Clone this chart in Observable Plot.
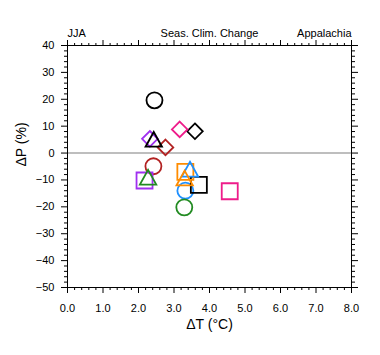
<!DOCTYPE html>
<html><head><meta charset="utf-8">
<script src="https://cdn.jsdelivr.net/npm/d3@7"></script>
<script src="https://cdn.jsdelivr.net/npm/@observablehq/plot@0.6"></script>
<style>body{margin:0;background:#fff;} svg{display:block}</style>
</head><body><div id="chart"></div>
<script>
// Data
const series = ["s1","s1","s1","s1","s2","s2","s3","s3","s4","s4","s5","s5","s6","s6","s7","s7"];
const marker = ["circle","diamond","triangle","square","diamond","square","diamond","square","diamond","circle","triangle","circle","square","triangle","triangle","circle"];
const dT = [2.45,3.59,2.43,3.70,3.16,4.57,2.32,2.17,2.76,2.42,3.45,3.32,3.32,3.30,2.27,3.29];
const dP = [19.6,8.1,5.1,-11.8,8.8,-14.2,5.3,-10.2,2.1,-4.9,-6.0,-14.0,-7.0,-9.3,-9.0,-20.2];

const seriesNames = ["s1","s2","s3","s4","s5","s6","s7"];
const seriesColors = ["#000000","#ee1c8a","#a030f0","#b22222","#1e90ff","#ff8c00","#228b22"];

const xMajor = [0,1,2,3,4,5,6,7,8];
const xMinor = [0.2,0.4,0.6,0.8,1.2,1.4,1.6,1.8,2.2,2.4,2.6,2.8,3.2,3.4,3.6,3.8,4.2,4.4,4.6,4.8,5.2,5.4,5.6,5.8,6.2,6.4,6.6,6.8,7.2,7.4,7.6,7.8];
const yMajor = [-50,-40,-30,-20,-10,0,10,20,30,40];
const yMinor = [-48,-46,-44,-42,-38,-36,-34,-32,-28,-26,-24,-22,-18,-16,-14,-12,-8,-6,-4,-2,2,4,6,8,12,14,16,18,22,24,26,28,32,34,36,38];

const titleLeft = "JJA", titleCenter = "Seas. Clim. Change", titleRight = "Appalachia";
const xTitle = "\u0394T (\u00B0C)", yTitle = "\u0394P (%)";

const data = series.map((s, i) => ({series: s, marker: marker[i], dT: dT[i], dP: dP[i]}));

// custom symbols (size -> radius like Plot does: size = r*r*PI)
const rad = (size) => Math.sqrt(size / Math.PI);
const symSquare = {draw(c, size){const r = rad(size); c.moveTo(-r,-r); c.lineTo(r,-r); c.lineTo(r,r); c.lineTo(-r,r); c.closePath();}};
const symDiamond = {draw(c, size){const r = rad(size); c.moveTo(0,-r); c.lineTo(r,0); c.lineTo(0,r); c.lineTo(-r,0); c.closePath();}};
const symTriangle = {draw(c, size){const r = rad(size); const h = r*0.9; c.moveTo(0,-h); c.lineTo(r,h); c.lineTo(-r,h); c.closePath();}};
const symCircle = {draw(c, size){const r = rad(size); c.moveTo(r,0); c.arc(0,0,r,0,2*Math.PI); c.closePath();}};
const shapes = {circle: [symCircle, 8], square: [symSquare, 8], diamond: [symDiamond, 7.8], triangle: [symTriangle, 8.2]};

const font = "Liberation Sans, Arial, Helvetica, sans-serif";
const blank = () => "";

const dotMarks = Object.keys(shapes).map(k => Plot.dot(data.filter(d => d.marker === k), {
  x: "dT", y: "dP", stroke: {value: "series", scale: "color"}, symbol: shapes[k][0], r: shapes[k][1], strokeWidth: 1.8, fill: "none"
}));

const chart = Plot.plot({
  width: 380, height: 355,
  marginLeft: 67, marginRight: 29, marginTop: 45, marginBottom: 68,
  style: {fontFamily: font, fontSize: "11px", background: "#fff", color: "#000"},
  x: {domain: [0, 8], label: null},
  y: {domain: [-50, 40], label: null},
  color: {type: "ordinal", domain: seriesNames, range: seriesColors},
  marks: [
    Plot.ruleY([0], {stroke: "#a8a8a8", strokeWidth: 1.5}),
    ...dotMarks,
    Plot.frame({stroke: "#000", strokeWidth: 1}),
    Plot.axisX({anchor: "bottom", ticks: xMajor, tickSize: 6, tickPadding: 11, tickFormat: d3.format(".1f"), label: null, fontSize: 11}),
    Plot.axisX({anchor: "bottom", ticks: xMinor, tickSize: 3, tickFormat: blank, label: null}),
    Plot.axisX({anchor: "top", ticks: xMajor, tickSize: 6, tickFormat: blank, label: null}),
    Plot.axisX({anchor: "top", ticks: xMinor, tickSize: 3, tickFormat: blank, label: null}),
    Plot.axisY({anchor: "left", ticks: yMajor, tickSize: 6, tickPadding: 7, tickFormat: d3.format("d"), label: null, fontSize: 11}),
    Plot.axisY({anchor: "left", ticks: yMinor, tickSize: 3, tickFormat: blank, label: null}),
    Plot.axisY({anchor: "right", ticks: yMajor, tickSize: 6, tickFormat: blank, label: null}),
    Plot.axisY({anchor: "right", ticks: yMinor, tickSize: 3, tickFormat: blank, label: null}),
    Plot.text([titleLeft], {frameAnchor: "top-left", text: d => d, dy: -16, textAnchor: "start", fontSize: 11}),
    Plot.text([titleCenter], {frameAnchor: "top", text: d => d, dy: -16, fontSize: 11}),
    Plot.text([titleRight], {frameAnchor: "top-right", text: d => d, dy: -16, textAnchor: "end", fontSize: 11}),
    Plot.text([xTitle], {frameAnchor: "bottom", text: d => d, dy: 41, fontSize: 14}),
    Plot.text([yTitle], {frameAnchor: "left", text: d => d, dx: -46, rotate: -90, fontSize: 14})
  ]
});
document.getElementById("chart").appendChild(chart);
</script>
</body></html>
